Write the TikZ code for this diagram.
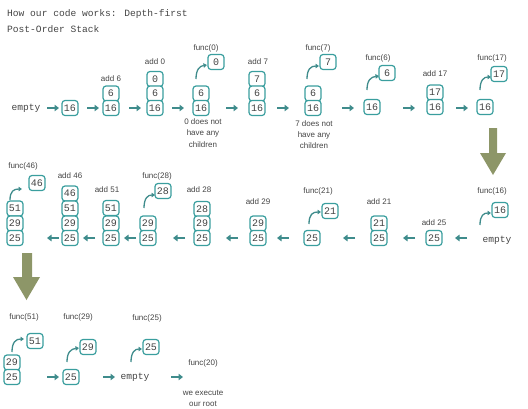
\documentclass[tikz,border=0pt]{standalone}
\usepackage{fontspec}
\setmainfont{Liberation Sans}
\newfontfamily\monof{Liberation Mono}
\usetikzlibrary{arrows.meta}
\definecolor{boxc}{HTML}{3A9E9E}
\definecolor{arc}{HTML}{3F8C8C}
\definecolor{bigc}{HTML}{8D9668}
\definecolor{txc}{HTML}{444444}
\tikzset{
  bx/.style={draw=boxc, line width=1.2pt, rounded corners=3pt, fill=white,
    minimum width=16pt, minimum height=15pt, inner sep=0pt,
    font=\monof\fontsize{10}{11}\selectfont, text=txc},
  lbl/.style={font=\fontsize{8}{9}\selectfont, text=txc, inner sep=0pt},
  mono/.style={font=\monof\fontsize{9.6}{11}\selectfont, text=txc, inner sep=0pt},
  sar/.style={draw=arc, line width=2.6pt, -{Triangle[width=6.5pt,length=4.5pt]}},
  car/.style={draw=arc, line width=1.3pt, -{Triangle[width=4.5pt,length=3.5pt]}},
  bigar/.style={fill=bigc}
}
\begin{document}
\begin{tikzpicture}[x=1pt,y=-1pt]
\useasboundingbox (0,0) rectangle (528,408);
% title
\node[mono, anchor=west] (t1) at (7,14) {How our code works: Depth-first};
\node[mono, anchor=west] (t2) at (7,29) {Post-Order Stack};

% ---------- Row 1 ----------
\node[mono] (e1) at (26,108) {empty};
\coordinate (r1a1) at (47,108); \coordinate (r1a2) at (59,108);
\draw[sar] (r1a1) -- (r1a2);
\node[bx] (b1) at (70,108) {16};
\coordinate (r1b1) at (87,108); \coordinate (r1b2) at (99,108);
\draw[sar] (r1b1) -- (r1b2);
\node[bx] (b2a) at (111,93.5) {6};
\node[bx] (b2b) at (111,108) {16};
\node[lbl] (l2) at (111,79) {add 6};
\coordinate (r1c1) at (129,108); \coordinate (r1c2) at (141,108);
\draw[sar] (r1c1) -- (r1c2);
\node[bx] (b3a) at (155,79) {0};
\node[bx] (b3b) at (155,93.5) {6};
\node[bx] (b3c) at (155,108) {16};
\node[lbl] (l3) at (155,62) {add 0};
\coordinate (r1d1) at (172,108); \coordinate (r1d2) at (184,108);
\draw[sar] (r1d1) -- (r1d2);
\node[bx] (b4a) at (201,93.5) {6};
\node[bx] (b4b) at (201,108) {16};
\node[bx] (b4f) at (216,62) {0};
\node[lbl] (l4) at (206,48) {func(0)};
\coordinate (c4a) at (196,79); \coordinate (c4b) at (207,65);
\draw[car] (c4a) .. controls (196,69) and (200,66) .. (c4b);
\node[lbl] (n4a) at (203,122) {0 does not};
\node[lbl] (n4b) at (203,133.5) {have any};
\node[lbl] (n4c) at (203,145) {children};
\coordinate (r1e1) at (226,108); \coordinate (r1e2) at (238,108);
\draw[sar] (r1e1) -- (r1e2);
\node[bx] (b5a) at (257,79) {7};
\node[bx] (b5b) at (257,93.5) {6};
\node[bx] (b5c) at (257,108) {16};
\node[lbl] (l5) at (258,62) {add 7};
\coordinate (r1f1) at (277,108); \coordinate (r1f2) at (289,108);
\draw[sar] (r1f1) -- (r1f2);
\node[bx] (b6a) at (313,93.5) {6};
\node[bx] (b6b) at (313,108) {16};
\node[bx] (b6f) at (328,62) {7};
\node[lbl] (l6) at (318,48) {func(7)};
\coordinate (c6a) at (307,79); \coordinate (c6b) at (319,66);
\draw[car] (c6a) .. controls (307,69) and (311,66) .. (c6b);
\node[lbl] (n6a) at (314,123.5) {7 does not};
\node[lbl] (n6b) at (314,135) {have any};
\node[lbl] (n6c) at (314,146) {children};
\coordinate (r1g1) at (342,108); \coordinate (r1g2) at (354,108);
\draw[sar] (r1g1) -- (r1g2);
\node[bx] (b7) at (372,107) {16};
\node[bx] (b7f) at (387,73) {6};
\node[lbl] (l7) at (378,58) {func(6)};
\coordinate (c7a) at (367,90); \coordinate (c7b) at (379,76);
\draw[car] (c7a) .. controls (367,80) and (371,77) .. (c7b);
\coordinate (r1h1) at (403,108); \coordinate (r1h2) at (415,108);
\draw[sar] (r1h1) -- (r1h2);
\node[bx] (b8a) at (435,92.5) {17};
\node[bx] (b8b) at (435,107) {16};
\node[lbl] (l8) at (435,74) {add 17};
\coordinate (r1i1) at (456,108); \coordinate (r1i2) at (468,108);
\draw[sar] (r1i1) -- (r1i2);
\node[bx] (b9) at (485,107) {16};
\node[bx] (b9f) at (499,74) {17};
\node[lbl] (l9) at (492,58) {func(17)};
\coordinate (c9a) at (480,90); \coordinate (c9b) at (491,77);
\draw[car] (c9a) .. controls (480,80) and (484,77) .. (c9b);

% big arrow 1
\fill[bigar] (489,128) -- (497,128) -- (497,153) -- (506,153) -- (493,175) -- (480,153) -- (489,153) -- cycle;

% ---------- Row 2 ----------
\node[mono] (e2) at (497,240) {empty};
\node[bx] (s1f) at (500,210) {16};
\node[lbl] (m1) at (492,191) {func(16)};
\coordinate (d1a) at (480,225); \coordinate (d1b) at (491,213);
\draw[car] (d1a) .. controls (480,215) and (484,213) .. (d1b);
\coordinate (r2a1) at (467,238); \coordinate (r2a2) at (455,238);
\draw[sar] (r2a1) -- (r2a2);
\node[bx] (s2) at (434,238) {25};
\node[lbl] (m2) at (434,223) {add 25};
\coordinate (r2b1) at (415,238); \coordinate (r2b2) at (403,238);
\draw[sar] (r2b1) -- (r2b2);
\node[bx] (s3a) at (379,223.5) {21};
\node[bx] (s3b) at (379,238) {25};
\node[lbl] (m3) at (379,202) {add 21};
\coordinate (r2c1) at (355,238); \coordinate (r2c2) at (343,238);
\draw[sar] (r2c1) -- (r2c2);
\node[bx] (s4) at (312,238) {25};
\node[bx] (s4f) at (330,211) {21};
\node[lbl] (m4) at (318,191) {func(21)};
\coordinate (d4a) at (309,224); \coordinate (d4b) at (321,212);
\draw[car] (d4a) .. controls (309,214) and (313,212) .. (d4b);
\coordinate (r2d1) at (289,238); \coordinate (r2d2) at (277,238);
\draw[sar] (r2d1) -- (r2d2);
\node[bx] (s5a) at (258,223.5) {29};
\node[bx] (s5b) at (258,238) {25};
\node[lbl] (m5) at (258,202) {add 29};
\coordinate (r2e1) at (238,238); \coordinate (r2e2) at (226,238);
\draw[sar] (r2e1) -- (r2e2);
\node[bx] (s6a) at (202,209) {28};
\node[bx] (s6b) at (202,223.5) {29};
\node[bx] (s6c) at (202,238) {25};
\node[lbl] (m6) at (199,190) {add 28};
\coordinate (r2f1) at (185,238); \coordinate (r2f2) at (173,238);
\draw[sar] (r2f1) -- (r2f2);
\node[bx] (s7a) at (148,223.5) {29};
\node[bx] (s7b) at (148,238) {25};
\node[bx] (s7f) at (163,191) {28};
\node[lbl] (m7) at (157,176) {func(28)};
\coordinate (d7a) at (144,208); \coordinate (d7b) at (155,195);
\draw[car] (d7a) .. controls (144,198) and (148,195) .. (d7b);
\coordinate (r2g1) at (136,238); \coordinate (r2g2) at (124,238);
\draw[sar] (r2g1) -- (r2g2);
\node[bx] (s8a) at (111,208) {51};
\node[bx] (s8b) at (111,223.5) {29};
\node[bx] (s8c) at (111,238) {25};
\node[lbl] (m8) at (107,190) {add 51};
\coordinate (r2h1) at (95,238); \coordinate (r2h2) at (83,238);
\draw[sar] (r2h1) -- (r2h2);
\node[bx] (s9a) at (70,193.5) {46};
\node[bx] (s9b) at (70,208.5) {51};
\node[bx] (s9c) at (70,223.5) {29};
\node[bx] (s9d) at (70,238) {25};
\node[lbl] (m9) at (70,176) {add 46};
\coordinate (r2i1) at (59,238); \coordinate (r2i2) at (47,238);
\draw[sar] (r2i1) -- (r2i2);
\node[bx] (s10a) at (15,208.5) {51};
\node[bx] (s10b) at (15,223.5) {29};
\node[bx] (s10c) at (15,238) {25};
\node[bx] (s10f) at (37,183) {46};
\node[lbl] (m10) at (23,166) {func(46)};
\coordinate (d10a) at (10,200); \coordinate (d10b) at (22,189);
\draw[car] (d10a) .. controls (10,191) and (14,189) .. (d10b);

% big arrow 2
\fill[bigar] (22,253) -- (32,253) -- (32,277) -- (40,277) -- (26.5,300) -- (13,277) -- (22,277) -- cycle;

% ---------- Row 3 ----------
\node[lbl] (u1l) at (24,317) {func(51)};
\node[bx] (u1f) at (35,341) {51};
\node[bx] (u1a) at (12,362.5) {29};
\node[bx] (u1b) at (12,377) {25};
\coordinate (f1a) at (12,352); \coordinate (f1b) at (24,339);
\draw[car] (f1a) .. controls (12,342) and (16,339) .. (f1b);
\coordinate (r3a1) at (47,377); \coordinate (r3a2) at (59,377);
\draw[sar] (r3a1) -- (r3a2);
\node[bx] (u2) at (71,377) {25};
\node[bx] (u2f) at (88,347) {29};
\node[lbl] (u2l) at (78,317) {func(29)};
\coordinate (f2a) at (67,362); \coordinate (f2b) at (79,348);
\draw[car] (f2a) .. controls (67,352) and (71,349) .. (f2b);
\coordinate (r3b1) at (103,377); \coordinate (r3b2) at (115,377);
\draw[sar] (r3b1) -- (r3b2);
\node[mono] (e3) at (135,377) {empty};
\node[bx] (u3f) at (151,347) {25};
\node[lbl] (u3l) at (147,318) {func(25)};
\coordinate (f3a) at (131,362); \coordinate (f3b) at (142,349);
\draw[car] (f3a) .. controls (131,352) and (135,349) .. (f3b);
\coordinate (r3c1) at (171,377); \coordinate (r3c2) at (183,377);
\draw[sar] (r3c1) -- (r3c2);
\node[lbl] (u4l) at (203,363) {func(20)};
\node[lbl] (u4a) at (203,392.5) {we execute};
\node[lbl] (u4b) at (203,403.5) {our root};
\end{tikzpicture}
\end{document}
